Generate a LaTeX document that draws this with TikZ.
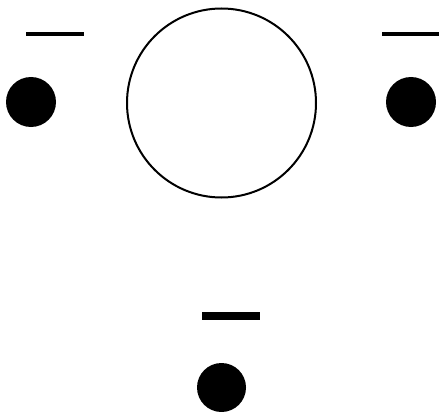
\documentclass[tikz,border=0pt]{standalone}
\begin{document}
\begin{tikzpicture}[x=1pt,y=1pt,
  dot/.style={circle,fill=black,inner sep=0pt,minimum size=50pt},
  bar/.style={rectangle,fill=black,inner sep=0pt},
  ring/.style={circle,draw=black,line width=2pt,inner sep=0pt,minimum size=189pt}]
\useasboundingbox (0,0) rectangle (439,-412);
\node[ring] (big) at (221.5,-103) {};
\node[dot] (ldot) at (31,-102) {};
\node[dot] (rdot) at (411,-102) {};
\node[dot,minimum size=49pt] (bdot) at (221.5,-387.5) {};
\node[bar,minimum width=58pt,minimum height=4pt] (lbar) at (55,-34) {};
\node[bar,minimum width=57pt,minimum height=4pt] (rbar) at (410.5,-34) {};
\node[bar,minimum width=58pt,minimum height=8pt] (bbar) at (231,-316) {};
\end{tikzpicture}
\end{document}
